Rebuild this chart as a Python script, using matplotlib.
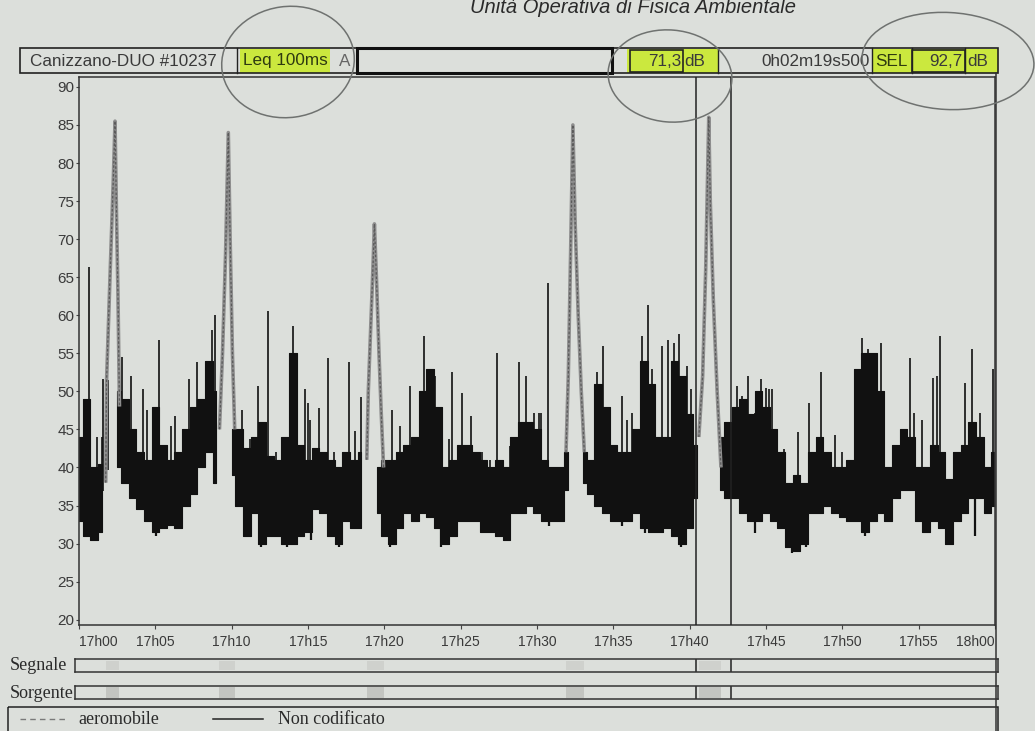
import numpy as np
import matplotlib.pyplot as plt
from matplotlib.patches import Rectangle, Ellipse

W, H = 1035, 731
nan = np.nan

# readings every half minute from 17h00 to 18h00 (dB), NaN where only the aircraft trace is drawn
minutes = np.linspace(0, 60, 121)
body_hi = [44, 49, 40, 40.5, nan, 50, 49, 45, 42, 41,
           48, 43, 41, 42, 45, 48, 49, 54, 50, nan,
           45, 45, 42.5, 44, 46, 41.5, 41, 44, 55, 43,
           41, 42.5, 42, 41, 40, 42, 41, 42, nan, 40,
           41, 41, 42, 43, 44, 50, 53, 48, 40, 41,
           43, 43, 42, 41, 40, 41, 40, 44, 46, 46,
           45, 41, 40, 40, 42, nan, 42, 41, 51, 48,
           43, 42, 42, 45, 54, 51, 44, 44, 54, 52,
           47, 43, nan, nan, 44, 46, 48, 49, 47, 50,
           48, 45, 42, 38, 39, 38, 42, 44, 42, 40,
           40, 41, 53, 55, 55, 50, 40, 43, 45, 44,
           40, 40, 43, 42, 38.5, 42, 43, 46, 44, 40,
           42]
body_lo = [33, 31, 30.5, 31.5, nan, 40, 38, 36, 34.5, 33,
           31.5, 32, 32.5, 32, 35, 36.5, 40, 42, 38, nan,
           39, 35, 31, 34, 30, 31, 31, 30, 30, 31,
           31.5, 34.5, 34, 31, 30, 33, 32, 32, nan, 34,
           31, 30, 32, 34, 33, 34, 33.5, 32, 30, 31,
           33, 33, 33, 31.5, 31.5, 31, 30.5, 34, 34, 35,
           34, 33, 33, 33, 37, nan, 38, 36.5, 35, 34,
           33, 33, 33, 34, 32, 31.5, 31.5, 32, 31, 30,
           32, 36, nan, nan, 37, 36, 36, 34, 33, 33,
           34, 33, 32, 29.5, 29, 30, 34, 34, 35, 34,
           33.5, 33, 33, 31.5, 33, 34, 33, 36, 37, 37,
           33, 31.5, 33, 32, 30, 33, 34, 36, 36, 34,
           35]

# single peaks standing above the dense trace
spike_t = [0.65, 1.15, 1.5, 1.6, 1.9, 2.8, 3.1, 3.4, 4.2, 4.45,
           5.25, 6.0, 6.3, 7.2, 7.7, 8.7, 8.9, 10.7, 11.2, 11.7,
           12.4, 12.9, 13.3, 14.05, 14.8, 15.0, 15.1, 15.7, 16.3, 16.7,
           17.7, 18.1, 18.5, 20.5, 21.0, 21.7, 22.6, 23.0, 23.3, 24.25,
           24.4, 25.1, 25.7, 26.4, 26.9, 27.4, 28.2, 28.8, 29.3, 29.8,
           30.1, 30.25, 30.7, 33.95, 34.3, 34.7, 35.6, 35.9, 36.2, 36.9,
           37.3, 37.55, 38.2, 38.6, 38.97, 39.3, 39.85, 40.06, 43.1, 43.45,
           43.8, 44.3, 44.7, 45.0, 45.2, 45.4, 46.16, 47.1, 47.8, 48.6,
           49.5, 49.98, 51.3, 51.7, 52.5, 54.4, 54.67, 55.2, 55.95, 56.2,
           56.4, 58.05, 58.5, 59.0, 59.9]
spike_top = [66.4, 44, 44, 51.6, 51.5, 54.5, 49, 52, 50.3, 47.6,
             56.8, 45.4, 46.8, 51.6, 53.8, 58, 60, 47.6, 43.7, 50.7,
             60.6, 42, 42, 58.6, 50.3, 48.5, 46.3, 47.8, 54.4, 42,
             53.8, 44.8, 49.2, 47.6, 45.4, 50.7, 57.3, 53, 52, 43.7,
             52.5, 49.8, 46.8, 42, 41, 55.1, 42.8, 53.8, 52, 47.2,
             47.2, 47.2, 64.3, 52.5, 56, 47.2, 49.4, 46.3, 47.2, 57.3,
             61.4, 52.9, 56, 56.8, 56.4, 57.5, 53.3, 50.3, 50.7, 49.4,
             52, 47.2, 51.6, 50.5, 50.3, 50.3, 42.4, 44.6, 48.5, 52.5,
             44.2, 42, 57, 55.5, 56.4, 54.4, 47.2, 46.3, 51.8, 52,
             57.3, 51.1, 55.5, 47.2, 52.9]

# deepest dips below the dense trace
dip_t = [0.94, 5.04, 6.35, 11.9, 13.6, 15.2, 17.04, 20.4, 23.7, 28.0,
         30.8, 35.6, 37.1, 39.4, 44.3, 46.7, 47.6, 51.5, 56.9, 58.7]
dip_low = [30.5, 31, 32.3, 29.6, 29.6, 30.5, 29.6, 29.6, 29.6, 30.5,
           32.3, 32.3, 31.4, 29.6, 31.4, 28.8, 29.6, 31, 30, 31]

# aircraft passages (aeromobile)
plane_t = [[1.75, 1.8, 2.03, 2.25, 2.36, 2.45, 2.55, 2.65],
           [9.2, 9.4, 9.6, 9.78, 9.9, 10.05, 10.2],
           [18.85, 18.95, 19.1, 19.25, 19.35, 19.5, 19.65, 19.8, 19.95],
           [31.9, 32.05, 32.2, 32.35, 32.5, 32.7, 32.9, 33.1],
           [40.6, 40.85, 41.05, 41.25, 41.35, 41.55, 41.8, 42.05]]
plane_db = [[38, 51, 65, 78, 85.5, 74, 63, 48],
            [45, 55, 68, 84, 70, 55, 45],
            [41, 50, 58, 66, 72, 64, 55, 47, 40],
            [42, 52, 68, 85, 72, 60, 50, 42],
            [44, 52, 66, 86, 75, 62, 50, 40]]

tick_min = list(range(0, 61, 5))
tick_labels = ['17h00', '17h05', '17h10', '17h15', '17h20', '17h25', '17h30',
               '17h35', '17h40', '17h45', '17h50', '17h55', '18h00']
y_ticks = list(range(20, 91, 5))

cursor_start = 40.4
cursor_len = 2 + 19.5 / 60   # 0h02m19s500
station = 'Canizzano-DUO #10237'
leq_val = '71,3'
sel_val = '92,7'

paper = '#dcdfdb'
ink = '#111111'
txt = '#3a3a3a'
hilite = '#cbe83e'

plt.rcParams['font.family'] = ['Liberation Sans', 'DejaVu Sans']
fig = plt.figure(figsize=(W / 100, H / 100), dpi=100, facecolor=paper)


def px_axes(x0, y0, x1, y1, **kw):
    return fig.add_axes([x0 / W, 1 - y1 / H, (x1 - x0) / W, (y1 - y0) / H], **kw)


L, R = 79, 995
ax = px_axes(L, 77, R, 625, facecolor='none')
ax.set_xlim(0, 60)
ax.set_ylim(19.3, 91.3)

ax.fill_between(minutes, body_lo, body_hi, color=ink, lw=0.8, step='mid', zorder=2)
hi = np.array(body_hi)
lo = np.array(body_lo)
ok = ~np.isnan(hi)
mid = (hi[ok] + lo[ok]) / 2
ax.vlines(spike_t, np.interp(spike_t, minutes[ok], mid), spike_top, color=ink, lw=1.2, zorder=2)
ax.vlines(dip_t, dip_low, np.interp(dip_t, minutes[ok], mid), color=ink, lw=1.6, zorder=2)

for pt, pdb in zip(plane_t, plane_db):
    ax.plot(pt, pdb, color='#8e8e8e', lw=2.6, zorder=3, solid_capstyle='butt')
    ax.plot(pt, pdb, color='#5a5a5a', lw=0.9, dashes=(2, 1.5), zorder=3)

ax.axvline(cursor_start, color='#222222', lw=1.1, zorder=4)
ax.axvline(cursor_start + cursor_len, color='#222222', lw=1.1, zorder=4)

ax.set_xticks(tick_min)
ax.set_xticklabels(tick_labels, fontsize=10, color=txt)
ax.set_yticks(y_ticks)
ax.set_yticklabels([str(v) for v in y_ticks], fontsize=11, color=txt)
ax.tick_params(axis='x', length=3, pad=4, color='#444444')
ax.tick_params(axis='y', length=2, pad=1.5, color='#444444')
labs = ax.get_xticklabels()
labs[0].set_ha('left')
labs[-1].set_ha('right')
for s in ax.spines.values():
    s.set_color('#333333')
    s.set_linewidth(1.1)

# Segnale / Sorgente rows, same time scale as the main plot
s = (R - L) / 60
rows = []
for y0, y1 in [(659, 672), (686, 699)]:
    r = px_axes(75, y0, 998, y1, facecolor='none')
    r.set_xlim((75 - L) / s, (998 - L) / s)
    r.set_ylim(0, 1)
    r.set_xticks([])
    r.set_yticks([])
    for sp in r.spines.values():
        sp.set_color('#333333')
        sp.set_linewidth(1.1)
    r.axvline(cursor_start, color='#222222', lw=1.1)
    r.axvline(cursor_start + cursor_len, color='#222222', lw=1.1)
    rows.append(r)
for pt in plane_t:
    rows[0].axvspan(min(pt), max(pt), ymin=0.15, ymax=0.85, color='#cfd1cd', lw=0)
    rows[1].axvspan(min(pt), max(pt), ymin=0.05, ymax=0.95, color='#c3c5c1', lw=0)

# overlay in pixel coordinates for header, notes and legend
ov = fig.add_axes([0, 0, 1, 1], facecolor='none', zorder=5)
ov.set_xlim(0, W)
ov.set_ylim(H, 0)
ov.axis('off')

ov.text(470, 13, 'Unità Operativa di Fisica Ambientale', fontsize=14.5, style='italic',
        color='#2a2a2a', va='baseline', ha='left')

# header bar
for x0, x1 in [(240, 330), (627, 718), (872, 998)]:
    ov.add_patch(Rectangle((x0, 49), x1 - x0, 24, color=hilite, lw=0, zorder=1))
ov.add_patch(Rectangle((20, 48), 978, 25, fill=False, ec='#222222', lw=1.2, zorder=2))
for xs in [237, 612, 718, 872, 912, 965]:
    ov.plot([xs, xs], [48, 73], color='#222222', lw=1.0, zorder=2)
ov.add_patch(Rectangle((357, 48), 255, 25, fill=False, ec='#111111', lw=2.2, zorder=2))
ov.add_patch(Rectangle((630, 50), 53, 22, fill=False, ec='#222222', lw=1.2, zorder=2))
ov.add_patch(Rectangle((912, 50), 53, 22, fill=False, ec='#222222', lw=1.2, zorder=2))

hs = 12.3
ov.text(30, 61, station, fontsize=hs, color=txt, va='center', ha='left', zorder=3)
ov.text(243, 61, 'Leq 100ms', fontsize=hs, color='#2e3a10', va='center', ha='left', zorder=3)
ov.text(339, 61, 'A', fontsize=hs, color='#666666', va='center', ha='left', zorder=3)
ov.text(681, 61, leq_val, fontsize=hs, color=txt, va='center', ha='right', zorder=3)
ov.text(684, 61, 'dB', fontsize=hs, color=txt, va='center', ha='left', zorder=3)
ov.text(870, 61, '0h02m19s500', fontsize=hs, color=txt, va='center', ha='right', zorder=3)
ov.text(875, 61, 'SEL', fontsize=hs, color='#2e3a10', va='center', ha='left', zorder=3)
ov.text(963, 61, sel_val, fontsize=hs, color=txt, va='center', ha='right', zorder=3)
ov.text(967, 61, 'dB', fontsize=hs, color=txt, va='center', ha='left', zorder=3)

# pencil circles
for cx, cy, ew, eh, ang in [(288, 62, 133, 111, -8), (670, 76, 124, 92, 5), (948, 61, 172, 97, 3)]:
    ov.add_patch(Ellipse((cx, cy), ew, eh, angle=ang, fill=False, ec='#6f7270', lw=1.1, zorder=4))

# right border of the panel
ov.plot([996, 996], [73, 731], color='#333333', lw=1.1)

# row labels
ov.text(10, 666, 'Segnale', fontsize=13, family='Liberation Serif', color='#2a2a2a', va='center')
ov.text(10, 693, 'Sorgente', fontsize=13, family='Liberation Serif', color='#2a2a2a', va='center')

# legend box
ov.add_patch(Rectangle((8, 707), 990, 30, fill=False, ec='#222222', lw=1.1))
ov.plot([20, 68], [719, 719], color='#7a7a7a', lw=1.0, dashes=(4, 3))
ov.text(78, 720, 'aeromobile', fontsize=13, family='Liberation Serif', color='#2a2a2a', va='center')
ov.plot([213, 263], [719, 719], color='#222222', lw=1.1)
ov.text(278, 720, 'Non codificato', fontsize=13, family='Liberation Serif', color='#2a2a2a', va='center')

fig.savefig('out.png', dpi=100, facecolor=paper)
